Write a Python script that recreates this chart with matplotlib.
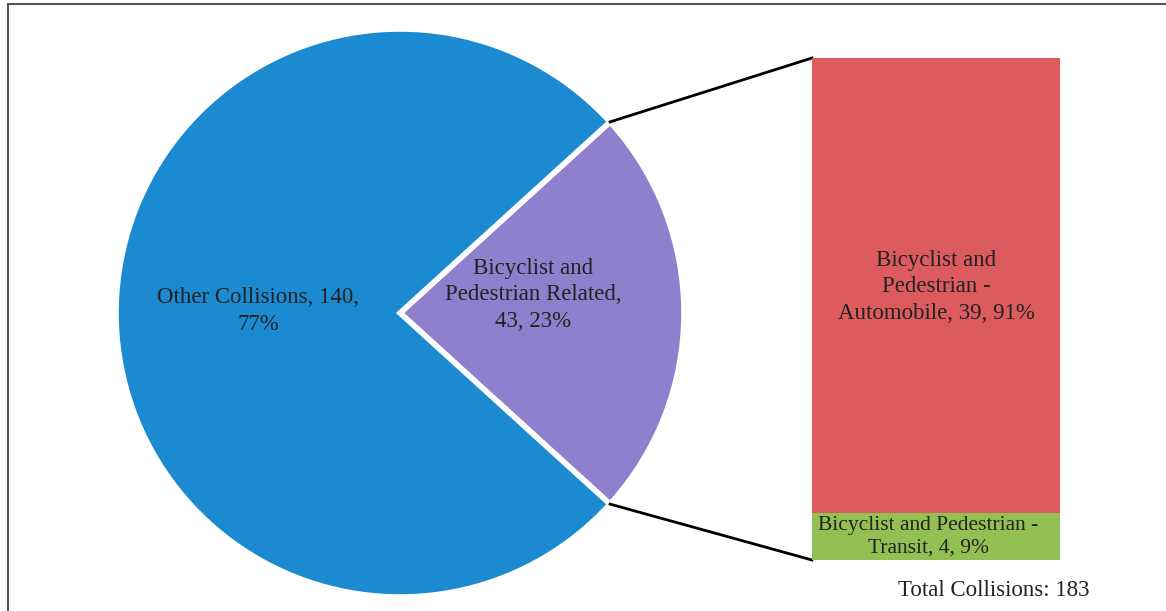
import matplotlib.pyplot as plt
from matplotlib.patches import Rectangle
import numpy as np

# pie data: the split slice first so it sits on the right
pie_labels = ['Bicyclist and\nPedestrian Related,\n43, 23%', 'Other Collisions, 140,\n77%']
pie_values = [43, 140]
pie_colors = ['#8e80cc', '#1b8ad0']

# bar (breakdown of the split slice)
bar_labels = ['Bicyclist and Pedestrian -\nTransit, 4, 9%', 'Bicyclist and\nPedestrian -\nAutomobile, 39, 91%']
bar_values = [4, 39]
bar_colors = ['#93c052', '#dc5b5e']

total_text = 'Total Collisions: 183'

W, H = 1166, 611
fig = plt.figure(figsize=(W / 100, H / 100), dpi=100)
plt.rcParams['font.family'] = ['Liberation Serif', 'DejaVu Serif']

# main axes in pixel units (y up)
ax = fig.add_axes([0, 0, 1, 1])
ax.set_xlim(0, W)
ax.set_ylim(0, H)
ax.set_aspect('equal')
ax.axis('off')

cx, cy, r = 400, H - 313, 284
start = -0.5 * pie_values[0] / sum(pie_values) * 360
wedges, _ = ax.pie(pie_values, colors=pie_colors, startangle=start, center=(cx, cy), radius=r,
                   wedgeprops=dict(edgecolor='white', linewidth=4), frame=True)
ax.set_xlim(0, W)
ax.set_ylim(0, H)
ax.axis('off')

ax.text(533, H - 295, pie_labels[0], ha='center', va='center', fontsize=16.5, linespacing=1.35, color='#222')
ax.text(258, H - 311, pie_labels[1], ha='center', va='center', fontsize=16.5, linespacing=1.35, color='#222')

# bar of pie
bx0, bw, by0, bh = 812, 248, H - 560, 502
bax = fig.add_axes([bx0 / W, by0 / H, bw / W, bh / H])
bottom = 0
for v, c in zip(bar_values, bar_colors):
    bax.bar(0, v, bottom=bottom, width=1, color=c)
    bottom += v
bax.set_xlim(-0.5, 0.5)
bax.set_ylim(0, sum(bar_values))
bax.axis('off')

bax.text(-0.03, bar_values[0] / 2, bar_labels[0], ha='center', va='center', fontsize=15.5, linespacing=1.2, color='#222')
bax.text(0, 23.4, bar_labels[1], ha='center', va='center', fontsize=16.5, linespacing=1.35, color='#222')

# connector lines from the split slice edges to the bar corners
half = np.radians(abs(start))
px = cx + r * np.cos(half)
ax.plot([px, bx0], [cy + r * np.sin(half), by0 + bh], color='black', lw=2)
ax.plot([px, bx0], [cy - r * np.sin(half), by0], color='black', lw=2)

ax.text(994, H - 590, total_text, ha='center', va='center', fontsize=16.5, color='#222')

# chart border (right and bottom edges are outside the image)
fig.patches.append(Rectangle((8 / W, -0.1), 1.2, (H - 4) / H + 0.1, transform=fig.transFigure,
                             fill=False, edgecolor='#555', linewidth=1.5))

fig.savefig('out.png', dpi=100)
